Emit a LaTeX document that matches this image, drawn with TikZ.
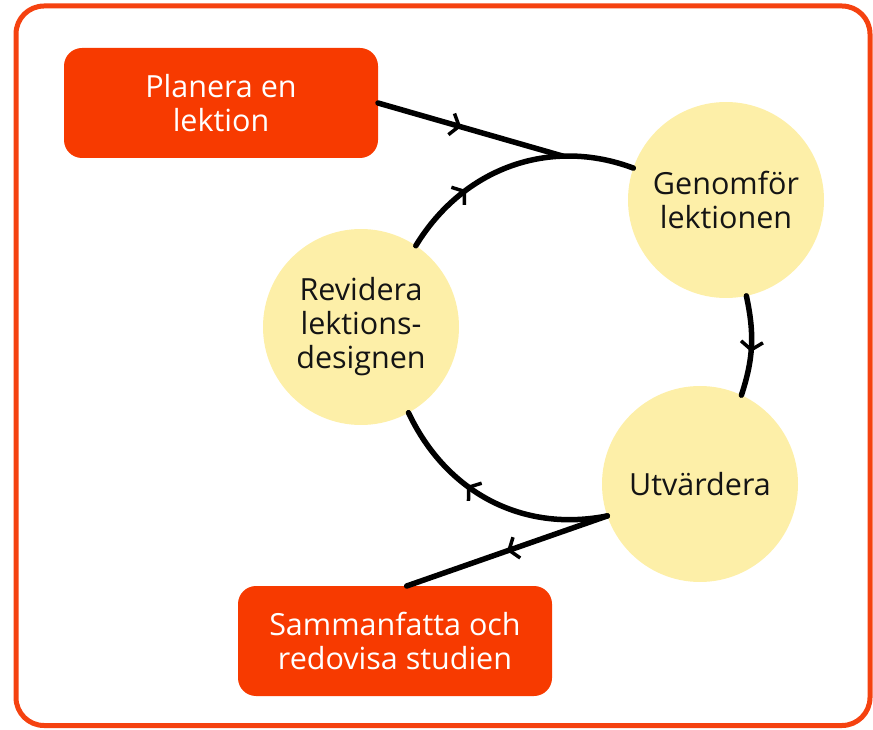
\documentclass[tikz,border=0pt]{standalone}
\usepackage{fontspec}
\setmainfont{Open Sans}
\usetikzlibrary{arrows.meta,decorations.markings,calc}
\definecolor{boxred}{RGB}{247,58,0}
\definecolor{framecol}{RGB}{245,66,16}
\definecolor{pale}{RGB}{253,239,168}
\definecolor{ink}{RGB}{20,20,20}
\begin{document}
\begin{tikzpicture}[x=1pt,y=1pt,
  stepcircle/.style={circle, fill=pale, draw=none, minimum size=196pt, inner sep=0pt, outer sep=0pt, text=ink, align=center, font=\fontsize{30.5}{34}\selectfont},
  redbox/.style={rectangle, rounded corners=18pt, fill=boxred, draw=none, minimum width=314pt, minimum height=110pt, inner sep=0pt, outer sep=0pt, text=white, align=center, font=\fontsize{30.5}{34}\selectfont},
  flow/.style={line width=5.5pt, draw=black, line cap=round},
  midarrow/.style={decoration={markings, mark=at position #1 with {\arrow{Straight Barb[length=8pt,width=22pt,line width=3.5pt]}}}, postaction={decorate}},
]
\useasboundingbox (0,0) rectangle (873,729);
\draw[framecol, line width=5pt, rounded corners=28pt] (16,3.5) rectangle (870,723);

\node[redbox] (P) at (221,626) {Planera en\\lektion};
\node[redbox] (S) at (395,88) {Sammanfatta och\\redovisa studien};
\node[stepcircle] (G) at (726,529) {Genomför\\lektionen};
\node[stepcircle] (R) at (361,402) {Revidera\\lektions-\\designen};
\node[stepcircle] (U) at (700,245) {Utvärdera};

\draw[flow, midarrow=0.30] (R.56) to[out=58.7, in=159.4] coordinate[pos=0.72] (J) (G.161);
\draw[flow, midarrow=0.45] (P.east) -- (J);
\draw[flow, midarrow=0.56] (G.-78) to[out=-77.9, in=71.8] (U.65);
\draw[flow, midarrow=0.61] (U.199) to[out=-168.8, in=-64.8] (R.-61);
\draw[flow, midarrow=0.5] (U.199) -- (S.78.9);
\end{tikzpicture}
\end{document}
